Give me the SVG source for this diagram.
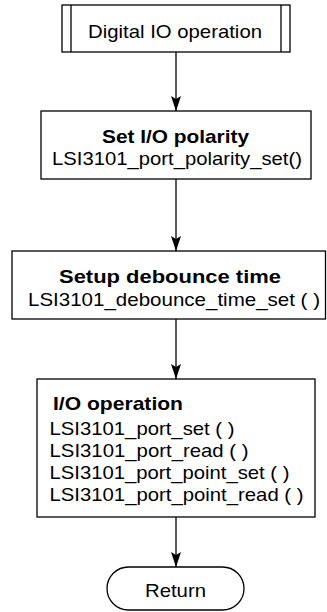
<svg xmlns="http://www.w3.org/2000/svg" width="327" height="612" viewBox="0 0 327 612">
<defs>
<style>
.box{fill:#fff;stroke:#000;stroke-width:1.3}
.ln{fill:none;stroke:#000;stroke-width:1.3}
.t{font-family:"Liberation Sans",Arial,sans-serif;font-size:19px;fill:#000}
.b{font-weight:bold}
</style>
<marker id="ah" markerUnits="userSpaceOnUse" viewBox="0 0 15 10" refX="15" refY="5" markerWidth="15" markerHeight="10" orient="auto">
<path d="M0,0 L15,5 L0,10 L3,5 z" fill="#000"/>
</marker>
</defs>
<rect width="327" height="612" fill="#fff"/>
<g id="connectors">
<line class="ln" x1="176" y1="52" x2="176" y2="111" marker-end="url(#ah)"/>
<line class="ln" x1="176" y1="179" x2="176" y2="251" marker-end="url(#ah)"/>
<line class="ln" x1="176" y1="319" x2="176" y2="379" marker-end="url(#ah)"/>
<line class="ln" x1="176" y1="517" x2="176" y2="567" marker-end="url(#ah)"/>
</g>
<g id="start">
<rect class="box" x="62" y="5" width="228" height="47"/>
<line class="ln" x1="71" y1="5" x2="71" y2="52"/>
<line class="ln" x1="281" y1="5" x2="281" y2="52"/>
<text class="t" x="88" y="38" textLength="174" lengthAdjust="spacingAndGlyphs">Digital IO operation</text>
</g>
<g id="polarity">
<rect class="box" x="41" y="111" width="270" height="68"/>
<text class="t b" x="102" y="143" textLength="147" lengthAdjust="spacingAndGlyphs">Set I/O polarity</text>
<text class="t" x="52" y="165" textLength="250" lengthAdjust="spacingAndGlyphs">LSI3101_port_polarity_set()</text>
</g>
<g id="debounce">
<rect class="box" x="12" y="251" width="313.5" height="68"/>
<text class="t b" x="59" y="283" textLength="222" lengthAdjust="spacingAndGlyphs">Setup debounce time</text>
<text class="t" x="28" y="306" textLength="292" lengthAdjust="spacingAndGlyphs">LSI3101_debounce_time_set ( )</text>
</g>
<g id="io">
<rect class="box" x="37" y="379" width="278" height="138"/>
<text class="t b" x="53" y="410" textLength="130" lengthAdjust="spacingAndGlyphs">I/O operation</text>
<text class="t" x="49.5" y="435" textLength="185" lengthAdjust="spacingAndGlyphs">LSI3101_port_set ( )</text>
<text class="t" x="49.5" y="457" textLength="199" lengthAdjust="spacingAndGlyphs">LSI3101_port_read ( )</text>
<text class="t" x="49.5" y="479" textLength="240" lengthAdjust="spacingAndGlyphs">LSI3101_port_point_set ( )</text>
<text class="t" x="49.5" y="501" textLength="254" lengthAdjust="spacingAndGlyphs">LSI3101_port_point_read ( )</text>
</g>
<g id="return">
<rect class="box" x="107" y="567" width="137" height="43" rx="21.5" ry="21.5"/>
<text class="t" x="145" y="597" textLength="61" lengthAdjust="spacingAndGlyphs">Return</text>
</g>
</svg>
